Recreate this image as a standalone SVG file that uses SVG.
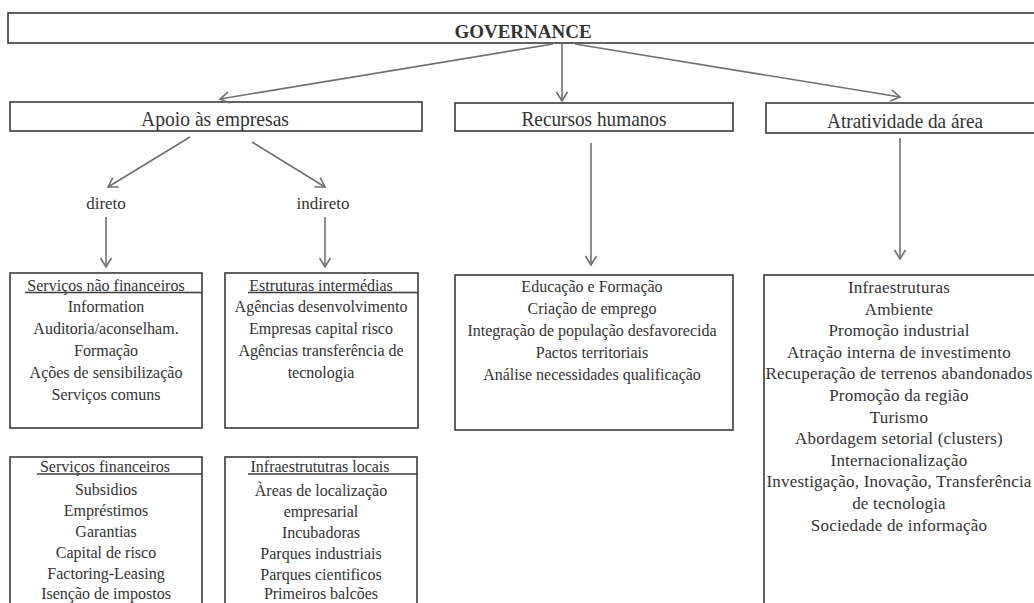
<svg xmlns="http://www.w3.org/2000/svg" width="1034" height="603" viewBox="0 0 1034 603">
<style>
.box{fill:#fff;stroke:#3a3a3a;stroke-width:1.6}
.t{font-family:"Liberation Serif","Times New Roman",serif;fill:#333;text-anchor:middle}
.h1{font-size:19px;font-weight:bold}
.h2{font-size:21px}
.lb{font-size:17px}
.b{font-size:16px}
.br{font-size:17px;letter-spacing:0.2px}
.ul{stroke:#3a3a3a;stroke-width:1.4}
.c{stroke:#707070;stroke-width:1.6;fill:none}
</style>
<defs>
<marker id="ah" markerUnits="userSpaceOnUse" markerWidth="14" markerHeight="14" viewBox="-11 -7 13 14" refX="0" refY="0" orient="auto">
<path d="M-9,-5.5 L0,0 L-9,5.5" fill="none" stroke="#707070" stroke-width="1.6"/>
</marker>
</defs>
<rect width="1034" height="603" fill="#fff"/>

<g id="governance">
<rect class="box" x="8" y="13" width="1040" height="30"/>
<text class="t h1" x="523" y="38">GOVERNANCE</text>
</g>

<g id="apoio">
<rect class="box" x="10" y="102" width="412" height="29"/>
<text class="t h2" x="215" y="126" textLength="148" lengthAdjust="spacingAndGlyphs">Apoio às empresas</text>
</g>

<g id="recursos">
<rect class="box" x="455" y="103" width="278" height="28"/>
<text class="t h2" x="594" y="126" textLength="145" lengthAdjust="spacingAndGlyphs">Recursos humanos</text>
</g>

<g id="atratividade">
<rect class="box" x="766" y="103" width="290" height="30"/>
<text class="t h2" x="905" y="128" textLength="156" lengthAdjust="spacingAndGlyphs">Atratividade da área</text>
</g>

<g id="direto"><text class="t lb" x="106" y="209">direto</text></g>
<g id="indireto"><text class="t lb" x="323" y="209">indireto</text></g>

<g id="servicos-nao-financeiros">
<rect class="box" x="10" y="273" width="192" height="155"/>
<text class="t b" x="106" y="291">Serviços não financeiros</text>
<line class="ul" x1="25" y1="292.5" x2="202" y2="292.5"/>
<text class="t b" x="106" y="312">Information</text>
<text class="t b" x="106" y="334">Auditoria/aconselham.</text>
<text class="t b" x="106" y="356">Formação</text>
<text class="t b" x="106" y="378">Ações de sensibilização</text>
<text class="t b" x="106" y="400">Serviços comuns</text>
</g>

<g id="estruturas-intermedias">
<rect class="box" x="225" y="273" width="193" height="155"/>
<text class="t b" x="321" y="291">Estruturas intermédias</text>
<line class="ul" x1="248" y1="292.5" x2="418" y2="292.5"/>
<text class="t b" x="321" y="312">Agências desenvolvimento</text>
<text class="t b" x="321" y="334">Empresas capital risco</text>
<text class="t b" x="321" y="356">Agências transferência de</text>
<text class="t b" x="321" y="378">tecnologia</text>
</g>

<g id="recursos-lista">
<rect class="box" x="455" y="275" width="278" height="155"/>
<text class="t b" x="592" y="292">Educação e Formação</text>
<text class="t b" x="592" y="314">Criação de emprego</text>
<text class="t b" x="592" y="336">Integração de população desfavorecida</text>
<text class="t b" x="592" y="358">Pactos territoriais</text>
<text class="t b" x="592" y="380">Análise necessidades qualificação</text>
</g>

<g id="atratividade-lista">
<rect class="box" x="764" y="275" width="300" height="340"/>
<text class="t br" x="899" y="293">Infraestruturas</text>
<text class="t br" x="899" y="314.6">Ambiente</text>
<text class="t br" x="899" y="336.2">Promoção industrial</text>
<text class="t br" x="899" y="357.8">Atração interna de investimento</text>
<text class="t br" x="899" y="379.4">Recuperação de terrenos abandonados</text>
<text class="t br" x="899" y="401">Promoção da região</text>
<text class="t br" x="899" y="422.6">Turismo</text>
<text class="t br" x="899" y="444.2">Abordagem setorial (clusters)</text>
<text class="t br" x="899" y="465.8">Internacionalização</text>
<text class="t br" x="899" y="487.4">Investigação, Inovação, Transferência</text>
<text class="t br" x="899" y="509">de tecnologia</text>
<text class="t br" x="899" y="530.6">Sociedade de informação</text>
</g>

<g id="servicos-financeiros">
<rect class="box" x="10" y="457" width="192" height="160"/>
<text class="t b" x="105" y="472">Serviços  financeiros</text>
<line class="ul" x1="37" y1="474" x2="202" y2="474"/>
<text class="t b" x="106" y="495">Subsidios</text>
<text class="t b" x="106" y="516">Empréstimos</text>
<text class="t b" x="106" y="537">Garantias</text>
<text class="t b" x="106" y="558">Capital de risco</text>
<text class="t b" x="106" y="579">Factoring-Leasing</text>
<text class="t b" x="106" y="599">Isenção de impostos</text>
</g>

<g id="infraestruturas-locais">
<rect class="box" x="225" y="457" width="192" height="160"/>
<text class="t b" x="320" y="472">Infraestrututras locais</text>
<line class="ul" x1="248" y1="474" x2="417" y2="474"/>
<text class="t b" x="321" y="496">Àreas de localização</text>
<text class="t b" x="321" y="517">empresarial</text>
<text class="t b" x="321" y="538">Incubadoras</text>
<text class="t b" x="321" y="559">Parques industriais</text>
<text class="t b" x="321" y="580">Parques cientificos</text>
<text class="t b" x="321" y="599">Primeiros balcões</text>
</g>

<g id="connectors">
<line class="c" x1="553" y1="44" x2="220" y2="99" marker-end="url(#ah)"/>
<line class="c" x1="562" y1="44" x2="562" y2="101" marker-end="url(#ah)"/>
<line class="c" x1="575" y1="44" x2="900" y2="97" marker-end="url(#ah)"/>
<line class="c" x1="190" y1="137" x2="108" y2="187" marker-end="url(#ah)"/>
<line class="c" x1="252" y1="142" x2="325" y2="187" marker-end="url(#ah)"/>
<line class="c" x1="106" y1="217" x2="106" y2="267" marker-end="url(#ah)"/>
<line class="c" x1="325" y1="217" x2="325" y2="267" marker-end="url(#ah)"/>
<line class="c" x1="591" y1="143" x2="591" y2="265" marker-end="url(#ah)"/>
<line class="c" x1="900" y1="138" x2="900" y2="259" marker-end="url(#ah)"/>
</g>
</svg>
